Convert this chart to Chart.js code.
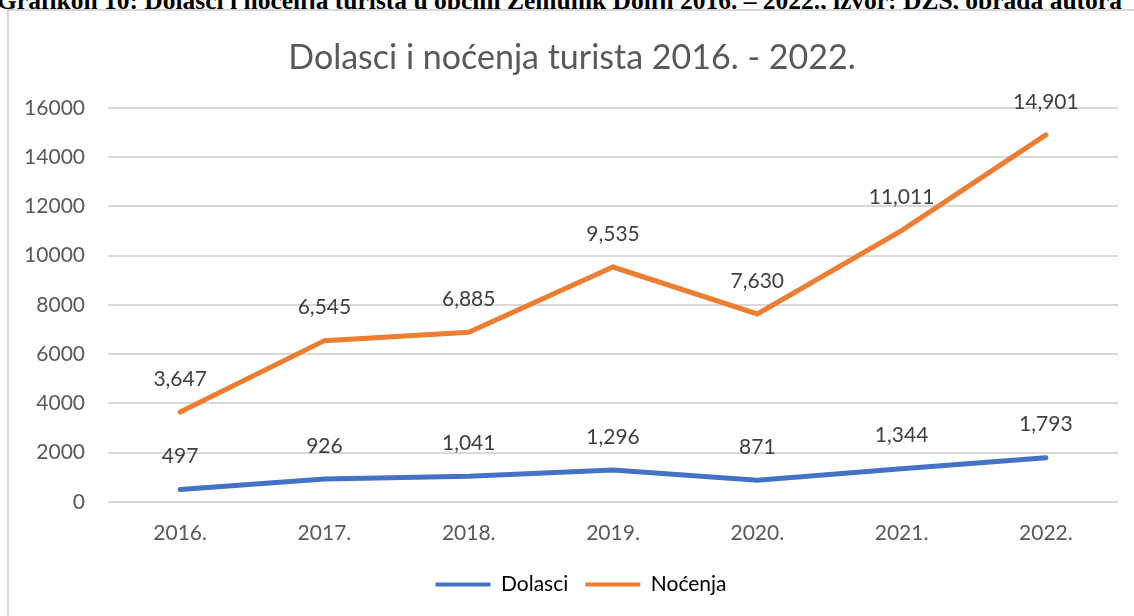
<!DOCTYPE html>
<html>
<head>
<meta charset="utf-8">
<script src="https://cdn.jsdelivr.net/npm/chart.js@4/dist/chart.umd.min.js"></script>
<style>
    body { margin: 0; background: #fff; width: 1134px; height: 616px; overflow: hidden; position: relative; }
    #caption {
        position: absolute; left: -3px; top: -14px; white-space: nowrap; line-height: 25px;
        font: bold 25.5px "Liberation Serif", serif; color: #000;
    }
    #frame {
        position: absolute; left: 7px; top: 9px; width: 1127px; height: 607px;
        border-left: 2px solid #d9d9d9; border-top: 2px solid #d9d9d9; box-sizing: border-box;
        background: #fff;
    }
    #frame canvas { position: absolute; left: 0; top: 0; }
</style>
</head>
<body>
<div id="caption">Grafikon 10: Dolasci i noćenja turista u općini Zemunik Donji 2016. – 2022., izvor: DZS, obrada autora</div>
<div id="frame"><canvas id="chart" width="1125" height="605"></canvas></div>
<script>
const years = ['2016.', '2017.', '2018.', '2019.', '2020.', '2021.', '2022.'];
const dolasci = [497, 926, 1041, 1296, 871, 1344, 1793];
const nocenja = [3647, 6545, 6885, 9535, 7630, 11011, 14901];
const yTicks = [0, 2000, 4000, 6000, 8000, 10000, 12000, 14000, 16000];

const fontFamily = 'Lato, "Open Sans", sans-serif';

// draws the value above each point, like the Excel data labels
const valueLabels = {
    id: 'valueLabels',
    afterDatasetsDraw(chart) {
        const ctx = chart.ctx;
        ctx.save();
        ctx.font = '21px ' + fontFamily;
        ctx.fillStyle = '#404040';
        ctx.textAlign = 'center';
        ctx.textBaseline = 'middle';
        chart.data.datasets.forEach((ds, i) => {
            chart.getDatasetMeta(i).data.forEach((pt, j) => {
                ctx.fillText(ds.data[j].toLocaleString('en-US'), pt.x, pt.y - 33);
            });
        });
        ctx.restore();
    }
};

// legend in the original sits a little right of the canvas centre
const legendShift = {
    id: 'legendShift',
    afterLayout(chart) {
        chart.legend.left += 9;
        chart.legend.right += 9;
    }
};

new Chart(document.getElementById('chart'), {
    type: 'line',
    data: {
        labels: years,
        datasets: [{
            label: 'Dolasci',
            data: dolasci,
            borderColor: '#4472C4',
            backgroundColor: '#4472C4',
            borderWidth: 5,
            borderCapStyle: 'round',
            pointRadius: 0,
            tension: 0
        }, {
            label: 'Noćenja',
            data: nocenja,
            borderColor: '#ED7D31',
            backgroundColor: '#ED7D31',
            borderWidth: 5,
            borderCapStyle: 'round',
            pointRadius: 0,
            tension: 0
        }]
    },
    options: {
        responsive: false,
        animation: false,
        layout: { padding: { left: 17, right: 16, top: 4, bottom: 11 } },
        plugins: {
            title: {
                display: true,
                text: 'Dolasci i noćenja turista 2016. - 2022.',
                color: '#595959',
                font: { family: fontFamily, size: 34, weight: 'normal' },
                padding: { top: 23, bottom: 29 }
            },
            legend: {
                position: 'bottom',
                labels: {
                    color: '#595959',
                    font: { family: fontFamily, size: 21 },
                    boxWidth: 55,
                    boxHeight: 4,
                    padding: 17,
                    generateLabels(chart) {
                        return chart.data.datasets.map((ds, i) => ({
                            text: ds.label,
                            fillStyle: ds.borderColor,
                            strokeStyle: ds.borderColor,
                            lineWidth: 0,
                            datasetIndex: i
                        }));
                    }
                }
            },
            tooltip: { enabled: false }
        },
        scales: {
            x: {
                offset: true,
                grid: { display: false },
                border: { display: false },
                ticks: { color: '#595959', font: { family: fontFamily, size: 21 }, padding: 11 }
            },
            y: {
                min: 0,
                max: 16000,
                afterBuildTicks(axis) { axis.ticks = yTicks.map(v => ({ value: v })); },
                afterFit(axis) { axis.width = 82; },
                grid: { color: '#d9d9d9', lineWidth: 2, drawTicks: false },
                border: { display: false },
                ticks: {
                    color: '#595959',
                    font: { family: fontFamily, size: 21 },
                    padding: 23,
                    callback: v => String(v)
                }
            }
        }
    },
    plugins: [valueLabels, legendShift]
});
</script>
</body>
</html>
